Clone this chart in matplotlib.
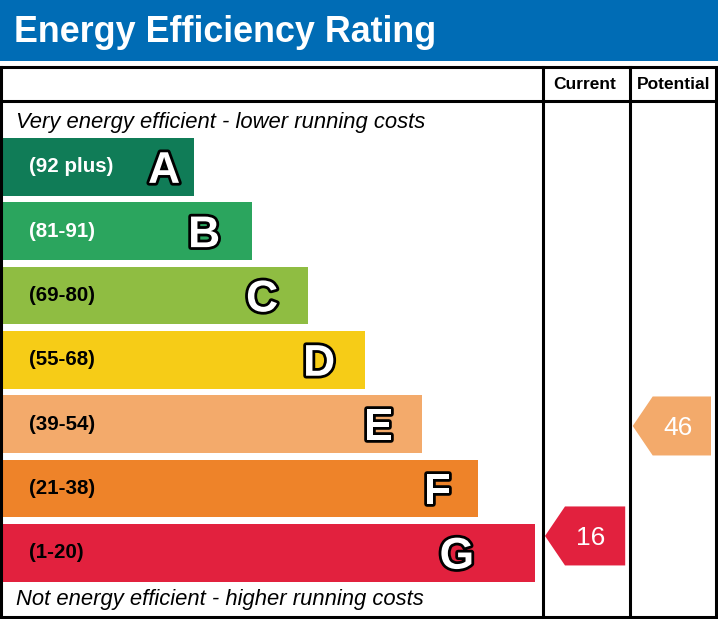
import matplotlib
matplotlib.use("Agg")
import matplotlib.pyplot as plt
import matplotlib.patheffects as pe
from matplotlib.patches import Rectangle, Polygon

plt.rcParams["font.family"] = ["Liberation Sans", "DejaVu Sans"]

# EPC bands, best to worst
bands = ["A", "B", "C", "D", "E", "F", "G"]
ranges = ["(92 plus)", "(81-91)", "(69-80)", "(55-68)", "(39-54)", "(21-38)", "(1-20)"]
band_lo = [92, 81, 69, 55, 39, 21, 1]
band_hi = [100, 91, 80, 68, 54, 38, 20]
bar_lengths = [192, 250, 306, 363, 420, 476, 533]
colours = ["#107c57", "#2ba55e", "#8fbd42", "#f6cc17", "#f3aa6b", "#ee8329", "#e2213e"]
label_colours = ["white", "white", "black", "black", "black", "black", "black"]

current_value = 16
potential_value = 46

W, H = 718, 619
fig = plt.figure(figsize=(W / 100, H / 100), dpi=100)
ax = fig.add_axes([0, 0, 1, 1])
ax.set_xlim(0, W)
ax.set_ylim(H, 0)
ax.axis("off")

# header band
ax.add_patch(Rectangle((0, 0), W, 60.5, color="#006cb5", lw=0))
ax.text(14, 41.7, "Energy Efficiency Rating", color="white", fontsize=25.8,
        fontweight="bold", va="baseline", ha="left")

# table frame
left, right, top, bottom = 1.2, 716, 66.5, 617
col1, col2 = 542.5, 630.2
lw = 2.2
ax.plot([left, right, right, left, left], [top, top, bottom, bottom, top],
        color="black", lw=lw, zorder=5, solid_joinstyle="miter")
ax.plot([left, right], [101.2, 101.2], color="black", lw=lw, zorder=5)
ax.plot([col1, col1], [top, bottom], color="black", lw=lw, zorder=5)
ax.plot([col2, col2], [top, bottom], color="black", lw=lw, zorder=5)

ax.text((col1 + col2) / 2 - 1.5, 89, "Current", fontsize=12.5, fontweight="bold",
        ha="center", va="baseline")
ax.text((col2 + right) / 2 + 1, 89, "Potential", fontsize=12.5, fontweight="bold",
        ha="center", va="baseline")

ax.text(15.5, 127.7, "Very energy efficient - lower running costs", fontsize=15.8,
        style="italic", ha="left", va="baseline")
ax.text(15.5, 605.3, "Not energy efficient - higher running costs", fontsize=15.8,
        style="italic", ha="left", va="baseline")

# bars
first_top = 138.0
pitch = 64.3
bar_h = 57.7
centres = [first_top + i * pitch + bar_h / 2 for i in range(len(bands))]
ax.barh(centres, bar_lengths, height=bar_h, left=2.2, color=colours, lw=0, zorder=2)

letter_pad = [14, 32, 30, 30, 29, 27, 61]
for i, b in enumerate(bands):
    cy = centres[i]
    ax.text(29, cy, ranges[i], color=label_colours[i], fontsize=14.8,
            fontweight="bold", ha="left", va="center", zorder=3)
    t = ax.text(2.2 + bar_lengths[i] - letter_pad[i], cy + 16, b, color="white",
                fontsize=32, fontweight="bold", ha="right", va="baseline", zorder=3)
    t.set_path_effects([pe.Stroke(linewidth=4, foreground="black"), pe.Normal()])


def band_index(v):
    for i in range(len(bands)):
        if band_lo[i] <= v <= band_hi[i]:
            return i
    return len(bands) - 1


def arrow(value, x0, x1):
    i = band_index(value)
    y_bot = centres[i] + bar_h / 2
    frac = (value - band_lo[i]) / (band_hi[i] - band_lo[i])
    cy = y_bot - frac * bar_h
    half = 29.5
    tip = x0 + 2.5
    shoulder = tip + 20
    xr = x1 - 5
    pts = [(tip, cy), (shoulder, cy - half), (xr, cy - half), (xr, cy + half),
           (shoulder, cy + half)]
    ax.add_patch(Polygon(pts, closed=True, color=colours[i], lw=0, zorder=3))
    ax.text((shoulder + xr) / 2 - 4, cy + 9.5, str(value), color="white",
            fontsize=19, ha="center", va="baseline", zorder=4)


arrow(current_value, col1, col2)
arrow(potential_value, col2, right)

fig.savefig("out.png", dpi=100)
